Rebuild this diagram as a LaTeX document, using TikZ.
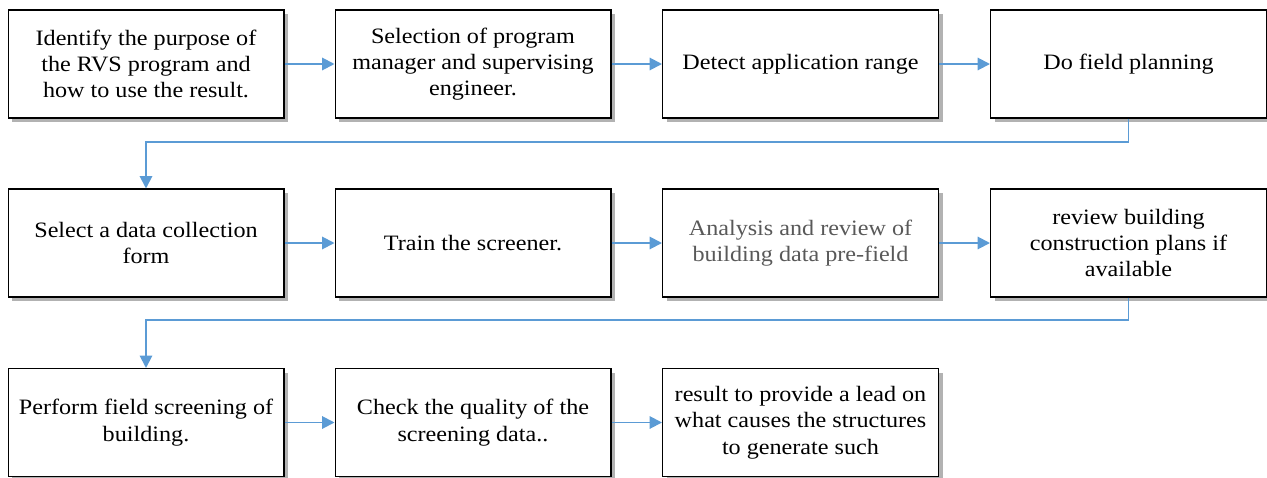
\documentclass[tikz,border=0pt]{standalone}
\usepackage{fontspec}
\setmainfont[FakeStretch=1.1]{Liberation Serif}
\usetikzlibrary{arrows.meta,shadows}
\definecolor{flowblue}{HTML}{5B9BD5}
\definecolor{softgray}{HTML}{595959}
\begin{document}
\begin{tikzpicture}[x=0.02cm,y=-0.02cm,
    stepbox/.style={draw, line width=0.6pt, fill=white, minimum width=5.52cm, minimum height=2.16cm,
        inner sep=2pt, align=center, font=\fontsize{12.5}{15}\selectfont,
        drop shadow={shadow xshift=2.5pt, shadow yshift=-2.5pt, opacity=0.3, fill=black}},
    flow/.style={flowblue, line width=1.1pt, -{Triangle[length=7pt,width=7pt]}}]
    \useasboundingbox (0,0) rectangle (1267,477);

    % Row 1
    \node[stepbox] (b1) at (146,64) {Identify the purpose of\\the RVS program and\\how to use the result.};
    \node[stepbox] (b2) at (473,64) {Selection of program\\manager and supervising\\engineer.};
    \node[stepbox] (b3) at (800.5,64) {Detect application range};
    \node[stepbox] (b4) at (1128.5,64) {Do field planning};

    % Row 2
    \node[stepbox] (b5) at (146,243) {Select a data collection\\form};
    \node[stepbox] (b6) at (473,243) {Train the screener.};
    \node[stepbox, text=softgray] (b7) at (800.5,243) {Analysis and review of\\building data pre-field};
    \node[stepbox] (b8) at (1128.5,243) {review building\\construction plans if\\available};

    % Row 3
    \node[stepbox] (b9) at (146,422.5) {Perform field screening of\\building.};
    \node[stepbox] (b10) at (473,422.5) {Check the quality of the\\screening data..};
    \node[stepbox] (b11) at (800.5,422.5) {result to provide a lead on\\what causes the structures\\to generate such};

    % Arrows within rows
    \foreach \i/\j in {1/2,2/3,3/4,5/6,6/7,7/8,9/10,10/11} \draw[flow] (b\i) -- (b\j);

    % Row changes
    \coordinate (k1) at (146,142);
    \coordinate (k2) at (146,320);
    \draw[flow] (b4.south) |- (k1) -- (b5.north);
    \draw[flow] (b8.south) |- (k2) -- (b9.north);
\end{tikzpicture}
\end{document}
